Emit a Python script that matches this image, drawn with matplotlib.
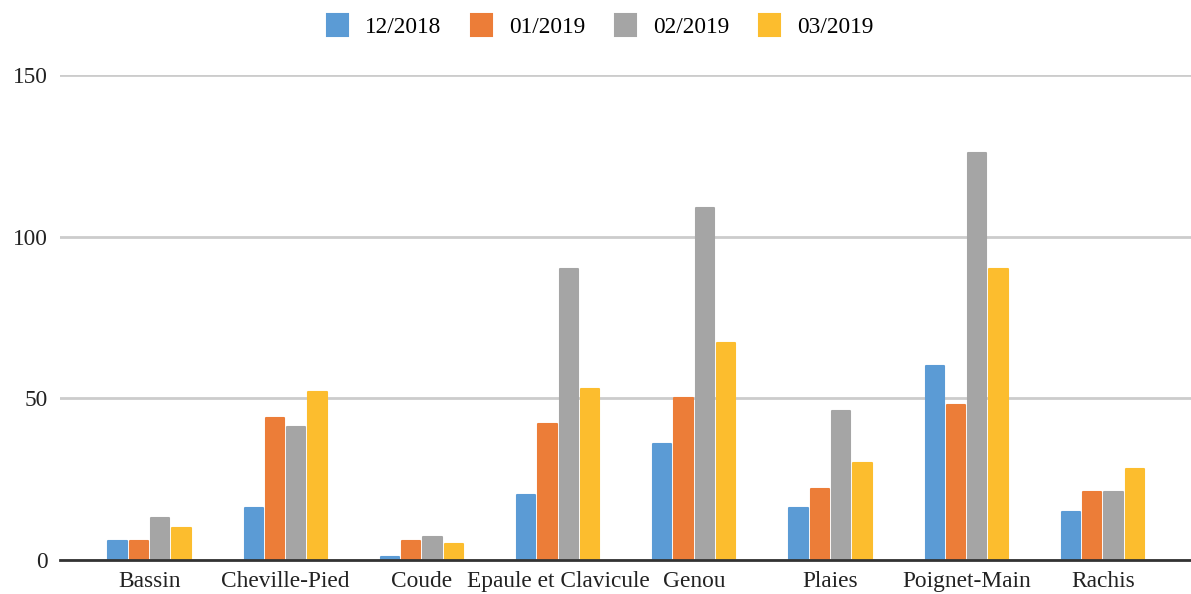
import numpy as np
import matplotlib
matplotlib.use("Agg")
import matplotlib.pyplot as plt

plt.rcParams['font.family'] = ['Liberation Serif', 'DejaVu Serif']

categories = ["Bassin", "Cheville-Pied", "Coude", "Epaule et Clavicule",
              "Genou", "Plaies", "Poignet-Main", "Rachis"]
months = ["12/2018", "01/2019", "02/2019", "03/2019"]
dec_2018 = [6, 16, 1, 20, 36, 16, 60, 15]
jan_2019 = [6, 44, 6, 42, 50, 22, 48, 21]
feb_2019 = [13, 41, 7, 90, 109, 46, 126, 21]
mar_2019 = [10, 52, 5, 53, 67, 30, 90, 28]
series = [dec_2018, jan_2019, feb_2019, mar_2019]
colors = ["#5B9BD5", "#EC7D38", "#A5A5A5", "#FCBD2E"]

fig = plt.figure(figsize=(11.91, 5.94), dpi=100)
ax = fig.add_axes([60 / 1191, 1 - 560 / 594, 1 - 60 / 1191, (560 - 75) / 594])

x = np.arange(len(categories))
pitch = 0.1564
width = 0.1345
for i, (vals, c, lab) in enumerate(zip(series, colors, months)):
    ax.bar(x + (i - 1.5) * pitch, vals, width, color=c, label=lab, zorder=2,
           edgecolor=c, linewidth=1.5, joinstyle='round')

ax.set_ylim(0, 150)
ax.set_xlim(-0.657, 7.647)
ax.set_yticks([0, 50, 100, 150])
ax.set_xticks(x)
ax.set_xticklabels(categories)
ax.tick_params(axis='both', length=0, labelsize=16.8, colors='#222222')
ax.tick_params(axis='x', pad=8)
ax.tick_params(axis='y', pad=9)
ax.yaxis.grid(True, color='#cccccc', linewidth=2, zorder=0)
ax.set_axisbelow(True)
for s in ax.spines.values():
    s.set_visible(False)
ax.axhline(0, color='#333333', linewidth=2, zorder=3, clip_on=False)

fig.legend(loc='center', bbox_to_anchor=(0.504, 0.956), ncol=4, frameon=False,
           fontsize=16.8, handlelength=0.9, handleheight=1.05,
           handletextpad=0.75, columnspacing=1.25)

fig.savefig("out.png", dpi=100)
